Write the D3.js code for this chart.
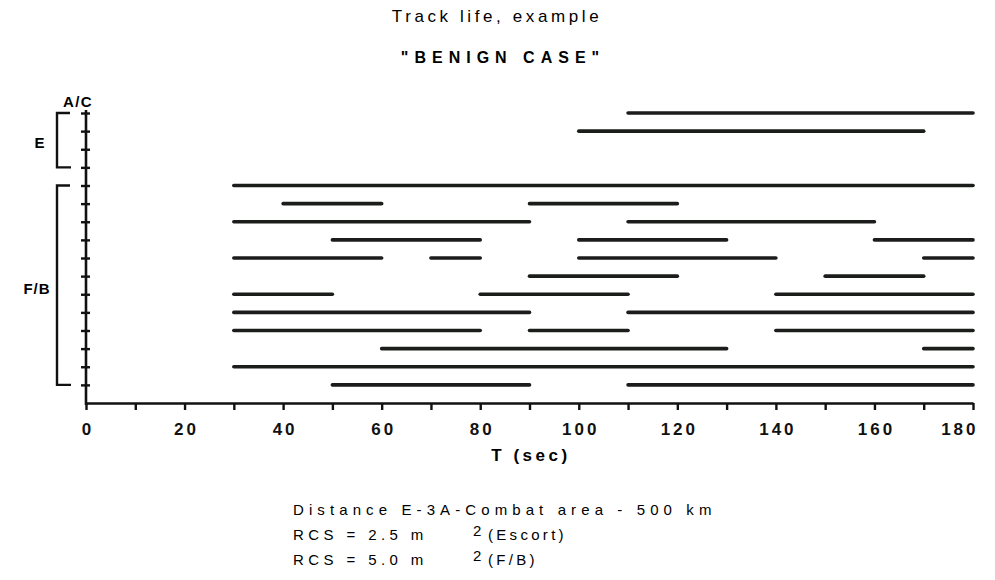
<!DOCTYPE html>
<html>
<head>
<meta charset="utf-8">
<script src="https://cdn.jsdelivr.net/npm/d3@7"></script>
<style>
  body { margin: 0; background: #fff; }
  svg { display: block; font-family: "Liberation Sans", Arial, sans-serif; }
</style>
</head>
<body>
<div class="chart"></div>
<script>
// Track rows, top to bottom: each row is a list of [start, end] in seconds
const escortTracks = [
  [[110, 180]],
  [[100, 170]],
  [],
  []
];
const fbTracks = [
  [[30, 180]],
  [[40, 60], [90, 120]],
  [[30, 90], [110, 160]],
  [[50, 80], [100, 130], [160, 180]],
  [[30, 60], [70, 80], [100, 140], [170, 180]],
  [[90, 120], [150, 170]],
  [[30, 50], [80, 110], [140, 180]],
  [[30, 90], [110, 180]],
  [[30, 80], [90, 110], [140, 180]],
  [[60, 130], [170, 180]],
  [[30, 180]],
  [[50, 90], [110, 180]]
];
const xTicks = d3.range(0, 181, 10);
const xLabels = [0, 20, 40, 60, 80, 100, 120, 140, 160, 180];
const notes = [
  'Distance E-3A-Combat area - 500 km',
  'RCS = 2.5 m',
  'RCS = 5.0 m'
];
const noteTails = ['', '(Escort)', '(F/B)'];

const width = 995, height = 580;
const rows = escortTracks.concat(fbTracks);
const nRows = rows.length;

const svg = d3.select('.chart').append('svg')
  .attr('width', width)
  .attr('height', height);

const x = d3.scaleLinear().domain([0, 180]).range([86, 973]);
// row 0 is the top row; the x axis sits one step below the last row
const y = d3.scaleLinear().domain([0, nRows]).range([113, 403]);

// Titles
svg.append('text')
  .attr('x', 497).attr('y', 22)
  .attr('text-anchor', 'middle')
  .style('font-size', '17px')
  .style('letter-spacing', '3.6px')
  .text('Track life, example');

svg.append('text')
  .attr('x', 503).attr('y', 63)
  .attr('text-anchor', 'middle')
  .style('font-size', '16px')
  .style('font-weight', 'bold')
  .style('letter-spacing', '6px')
  .text('"BENIGN CASE"');

// Track segments
const segs = [];
rows.forEach((r, i) => r.forEach(s => segs.push({row: i, t0: s[0], t1: s[1]})));

svg.append('g').attr('class', 'tracks')
  .selectAll('line')
  .data(segs)
  .join('line')
  .attr('x1', d => x(d.t0))
  .attr('x2', d => x(d.t1))
  .attr('y1', d => y(d.row))
  .attr('y2', d => y(d.row))
  .attr('stroke', '#1b1d1b')
  .attr('stroke-width', 3.6)
  .attr('stroke-linecap', 'round');

// X axis
const xAxis = d3.axisBottom(x)
  .tickValues(xTicks)
  .tickSizeInner(7)
  .tickSizeOuter(0)
  .tickFormat(d => xLabels.includes(d) ? d : '');

const gx = svg.append('g')
  .attr('class', 'axis x-axis')
  .attr('transform', `translate(0,${y(nRows)})`)
  .call(xAxis);

gx.select('.domain').attr('stroke', '#111').attr('stroke-width', 2.6);
gx.selectAll('.tick line').attr('stroke', '#111').attr('stroke-width', 2.4);
gx.selectAll('.tick text')
  .attr('y', 32)
  .attr('dy', 0)
  .attr('dx', '1.5px')
  .style('font-family', '"Liberation Sans", Arial, sans-serif')
  .style('font-size', '17px')
  .style('font-weight', 'bold')
  .style('letter-spacing', '3px')
  .attr('fill', '#111');
gx.selectAll('.tick text')
  .filter(d => d === 180)
  .attr('text-anchor', 'end')
  .attr('dx', '5px');

svg.append('text')
  .attr('x', 531).attr('y', 461)
  .attr('text-anchor', 'middle')
  .style('font-size', '17px')
  .style('font-weight', 'bold')
  .style('letter-spacing', '3.5px')
  .text('T (sec)');

// Y axis: ticks cross the line on both sides
const yAxis = d3.axisLeft(y)
  .tickValues(d3.range(0, nRows))
  .tickSizeOuter(0)
  .tickFormat('');

const gy = svg.append('g')
  .attr('class', 'axis y-axis')
  .attr('transform', `translate(${x(0)},0)`)
  .call(yAxis);

gy.select('.domain')
  .attr('d', `M0,${y(0) - 3}V${y(nRows) + 2}`)
  .attr('stroke', '#111').attr('stroke-width', 2.6);
gy.selectAll('.tick line')
  .attr('x1', -5).attr('x2', 4)
  .attr('stroke', '#111').attr('stroke-width', 2.4);

// Group brackets
const groups = [
  {label: 'E', first: 0, last: escortTracks.length - 1, lx: 40, ly: 148},
  {label: 'F/B', first: escortTracks.length, last: nRows - 1, lx: 37, ly: 294}
];

svg.append('g').attr('class', 'brackets')
  .selectAll('path')
  .data(groups)
  .join('path')
  .attr('d', g => `M70,${y(g.first)}H57V${y(g.last)}H71`)
  .attr('fill', 'none')
  .attr('stroke', '#111')
  .attr('stroke-width', 2.4);

svg.append('g').attr('class', 'group-labels')
  .selectAll('text')
  .data(groups)
  .join('text')
  .attr('x', g => g.lx)
  .attr('y', g => g.ly)
  .attr('text-anchor', 'middle')
  .style('font-size', '15px')
  .style('font-weight', 'bold')
  .style('letter-spacing', '1px')
  .text(g => g.label);

svg.append('text')
  .attr('x', 63).attr('y', 107)
  .style('font-size', '15px')
  .style('font-weight', 'bold')
  .style('letter-spacing', '1.4px')
  .text('A/C');

// Notes under the chart
const noteG = svg.append('g').attr('class', 'notes');
notes.forEach((n, i) => {
  const base = 515 + i * 25;
  noteG.append('text')
    .attr('x', 293).attr('y', base)
    .style('font-size', '15px')
    .style('letter-spacing', i === 0 ? '5.1px' : '4.4px')
    .text(n);
  if (noteTails[i]) {
    noteG.append('text')
      .attr('x', 473).attr('y', base - 4)
      .style('font-size', '15px')
      .text('2');
    noteG.append('text')
      .attr('x', 488).attr('y', base)
      .style('font-size', '15px')
      .style('letter-spacing', '3.3px')
      .text(noteTails[i]);
  }
});
</script>
</body>
</html>
